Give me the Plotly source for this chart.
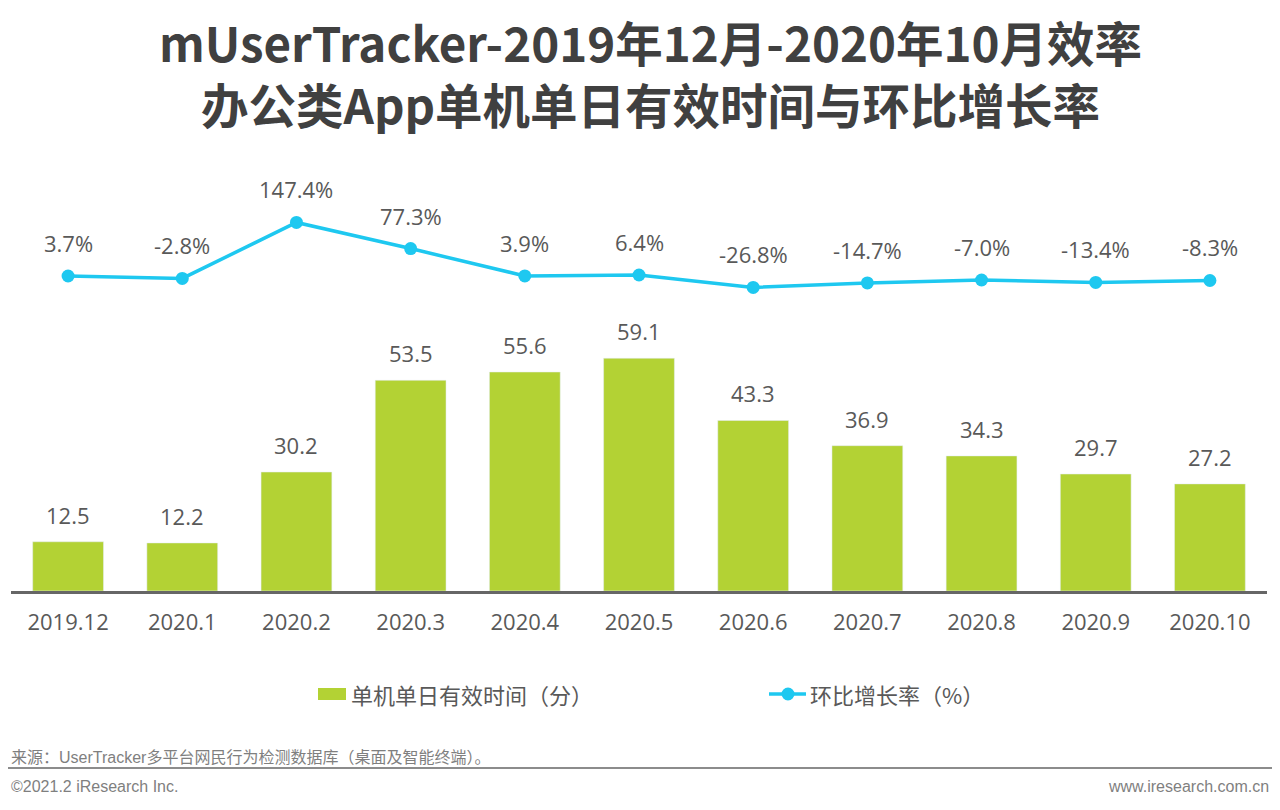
import plotly.graph_objects as go

categories = ["2019.12", "2020.1", "2020.2", "2020.3", "2020.4", "2020.5",
              "2020.6", "2020.7", "2020.8", "2020.9", "2020.10"]
minutes = [12.5, 12.2, 30.2, 53.5, 55.6, 59.1, 43.3, 36.9, 34.3, 29.7, 27.2]
growth = [3.7, -2.8, 147.4, 77.3, 3.9, 6.4, -26.8, -14.7, -7.0, -13.4, -8.3]
title_lines = ["mUserTracker-2019年12月-2020年10月效率", "办公类App单机单日有效时间与环比增长率"]
bar_name = "单机单日有效时间（分）"
line_name = "环比增长率（%）"

BAR_COLOR = "#b3d234"
LINE_COLOR = "#1ec8f0"
TEXT_COLOR = "#595959"
LABEL_FONT = "Open Sans, Noto Sans CJK SC, sans-serif"
CJK_FONT = "Noto Sans CJK SC, sans-serif"

OFF = 8  # page body margin
W, H = 1280 - 2 * OFF, 810 - 2 * OFF
# plot area in screen pixels: x 11..1267, y 170..591
SX0, SX1, SY0, SY1 = 11, 1267, 170, 591
L, R = SX0 - OFF, W - (SX1 - OFF)
T, B = SY0 - OFF, H - (SY1 - OFF)
PW, PH = W - L - R, H - T - B


def px(x):
    return (x - OFF - L) / PW


def py(y):
    return (H - B - (y - OFF)) / PH


fig = go.Figure()
fig.add_trace(go.Bar(
    x=categories, y=minutes, name=bar_name,
    marker=dict(color=BAR_COLOR), yaxis="y", hoverinfo="skip",
))
fig.add_trace(go.Scatter(
    x=categories, y=growth, name=line_name, mode="lines+markers",
    line=dict(color=LINE_COLOR, width=3.5),
    marker=dict(color=LINE_COLOR, size=13), yaxis="y2", hoverinfo="skip",
))

annotations = []
for i, v in enumerate(minutes):
    annotations.append(dict(x=i, y=v, xref="x", yref="y", text=f"{v:.1f}",
                            showarrow=False, yshift=27,
                            font=dict(size=22, color=TEXT_COLOR, family=LABEL_FONT)))
for i, v in enumerate(growth):
    annotations.append(dict(x=i, y=v, xref="x", yref="y2", text=f"{v:.1f}%",
                            showarrow=False, yshift=33,
                            font=dict(size=22, color=TEXT_COLOR, family=LABEL_FONT)))

annotations.append(dict(
    x=px(650), y=py(73), xref="paper", yref="paper", yanchor="middle", xanchor="center",
    text="<b>" + "<br>".join(title_lines) + "</b>", showarrow=False, align="center",
    font=dict(size=47.5, color="#404040", family=CJK_FONT)))

# legend texts
annotations.append(dict(x=px(349), y=py(694), xref="paper", yref="paper",
                        xanchor="left", yanchor="middle", showarrow=False, text=bar_name,
                        font=dict(size=22, color=TEXT_COLOR, family=CJK_FONT)))
annotations.append(dict(x=px(808), y=py(694), xref="paper", yref="paper",
                        xanchor="left", yanchor="middle", showarrow=False, text=line_name,
                        font=dict(size=22, color=TEXT_COLOR, family=CJK_FONT)))

# footer
annotations.append(dict(x=px(9), y=py(757), xref="paper", yref="paper",
                        xanchor="left", yanchor="middle", showarrow=False,
                        text="来源：UserTracker多平台网民行为检测数据库（桌面及智能终端）。",
                        font=dict(size=16, color="#7f7f7f",
                                  family="Liberation Sans, Noto Sans CJK SC, sans-serif")))
foot_font = dict(size=16, color="#7f7f7f", family="Liberation Sans, Arial, sans-serif")
annotations.append(dict(x=px(9), y=py(786), xref="paper", yref="paper",
                        xanchor="left", yanchor="middle", showarrow=False,
                        text="©2021.2 iResearch Inc.", font=foot_font))
annotations.append(dict(x=px(1271), y=py(786), xref="paper", yref="paper",
                        xanchor="right", yanchor="middle", showarrow=False,
                        text="www.iresearch.com.cn", font=foot_font))

shapes = [
    dict(type="line", xref="paper", yref="paper", x0=px(8), x1=px(1272),
         y0=py(768), y1=py(768), line=dict(color="#8c8c8c", width=2)),
    dict(type="rect", xref="paper", yref="paper", x0=px(318), x1=px(346),
         y0=py(700), y1=py(688), fillcolor=BAR_COLOR, line=dict(width=0)),
    dict(type="line", xref="paper", yref="paper", x0=px(769), x1=px(806),
         y0=py(694), y1=py(694), line=dict(color=LINE_COLOR, width=3.5)),
    dict(type="circle", xref="paper", yref="paper", x0=px(781.5), x1=px(794.5),
         y0=py(700.5), y1=py(687.5), fillcolor=LINE_COLOR, line=dict(width=0)),
]

fig.update_layout(
    width=W, height=H,
    margin=dict(l=L, r=R, t=T, b=B, autoexpand=False),
    paper_bgcolor="white", plot_bgcolor="white",
    bargap=0.38,
    showlegend=False,
    xaxis=dict(type="category", range=[-0.5, len(categories) - 0.5],
               showline=True, linecolor="#666666", linewidth=2.5,
               showgrid=False, automargin=False,
               ticks="outside", ticklen=10, tickcolor="rgba(0,0,0,0)",
               tickfont=dict(size=22, color=TEXT_COLOR, family=LABEL_FONT)),
    yaxis=dict(range=[0, 106.9], visible=False, showgrid=False),
    yaxis2=dict(range=[-841, 288], overlaying="y", visible=False, showgrid=False),
    annotations=annotations,
    shapes=shapes,
)

fig.write_html("out.html")
